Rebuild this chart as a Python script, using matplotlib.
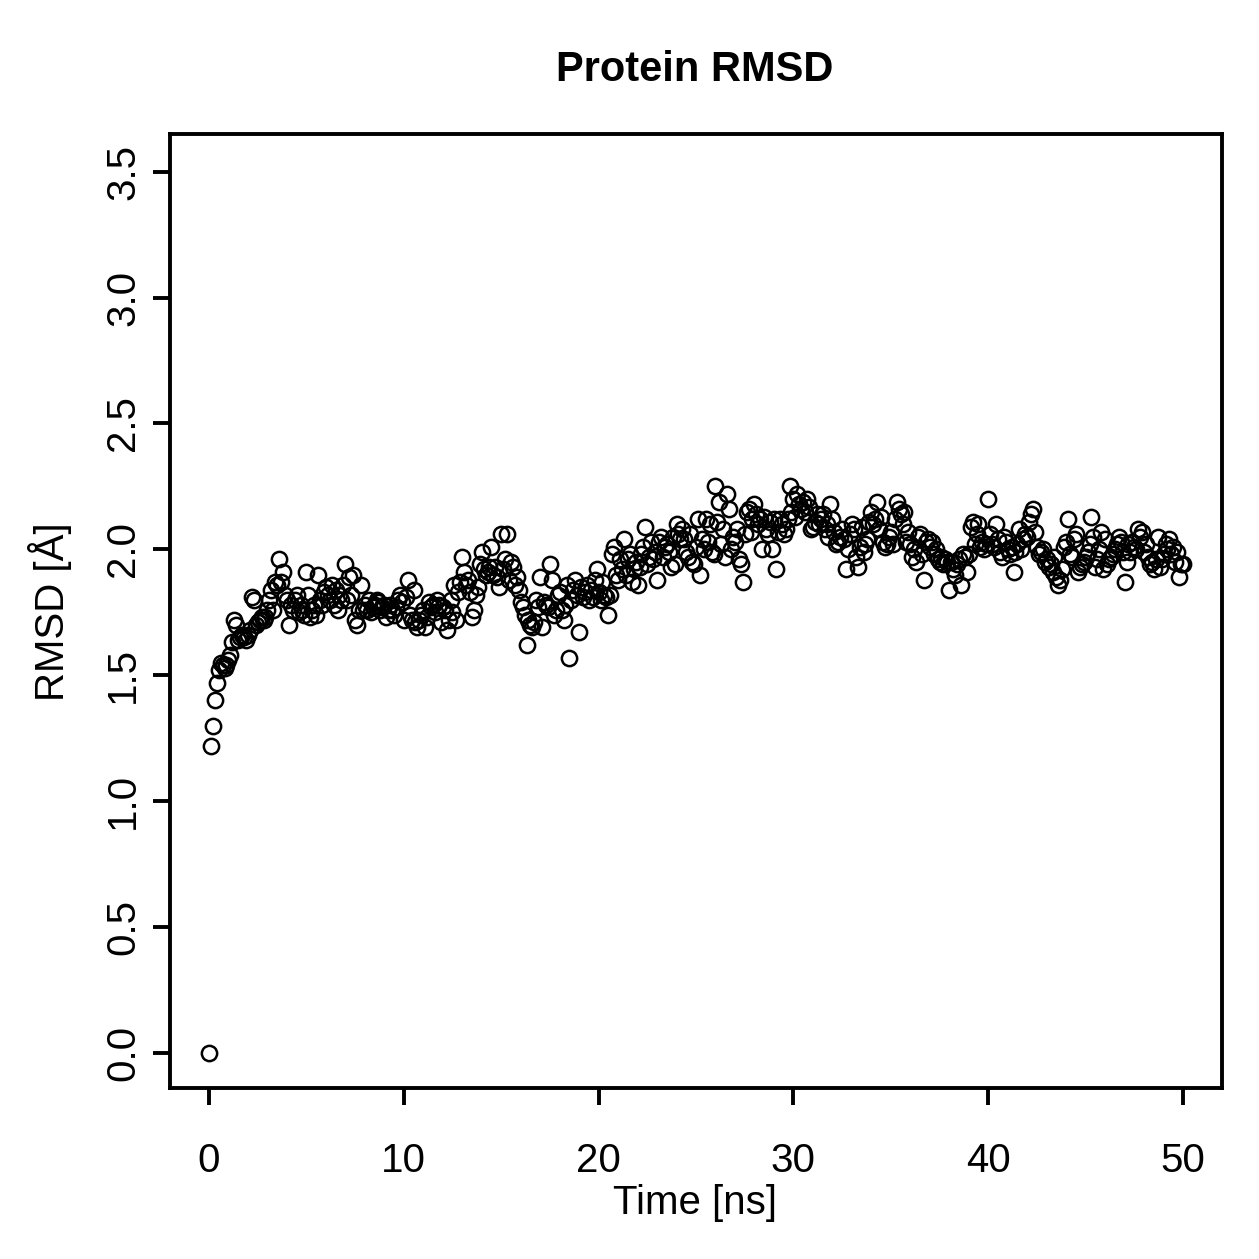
import matplotlib
matplotlib.use("Agg")
import matplotlib.pyplot as plt
import numpy as np

plt.rcParams['font.family'] = ['Liberation Sans', 'DejaVu Sans']

title = "Protein RMSD"
xlabel = "Time [ns]"
ylabel = "RMSD [Å]"
xticks = [0, 10, 20, 30, 40, 50]
yticks = [0.0, 0.5, 1.0, 1.5, 2.0, 2.5, 3.0, 3.5]

time_step = 0.1
rmsd = [
    0.00, 1.22, 1.30, 1.40, 1.47, 1.52, 1.55, 1.54, 1.53, 1.54,
    1.56, 1.58, 1.63, 1.72, 1.70, 1.64, 1.65, 1.66, 1.65, 1.64,
    1.66, 1.68, 1.81, 1.80, 1.70, 1.71, 1.72, 1.73, 1.72, 1.73,
    1.76, 1.80, 1.84, 1.76, 1.87, 1.86, 1.96, 1.87, 1.91, 1.82,
    1.80, 1.70, 1.78, 1.76, 1.80, 1.82, 1.75, 1.78, 1.76, 1.74,
    1.91, 1.82, 1.73, 1.76, 1.78, 1.74, 1.90, 1.80, 1.78, 1.83,
    1.85, 1.82, 1.80, 1.86, 1.78, 1.84, 1.76, 1.82, 1.80, 1.86,
    1.94, 1.80, 1.89, 1.82, 1.90, 1.72, 1.70, 1.76, 1.86, 1.76,
    1.78, 1.76, 1.80, 1.75, 1.77, 1.78, 1.80, 1.79, 1.76, 1.77,
    1.78, 1.73, 1.76, 1.78, 1.76, 1.74, 1.77, 1.80, 1.82, 1.79,
    1.72, 1.81, 1.88, 1.74, 1.72, 1.84, 1.71, 1.69, 1.72, 1.74,
    1.76, 1.69, 1.73, 1.79, 1.77, 1.78, 1.75, 1.80, 1.78, 1.71,
    1.77, 1.76, 1.68, 1.72, 1.80, 1.75, 1.86, 1.72, 1.83, 1.87,
    1.97, 1.91, 1.86, 1.88, 1.83, 1.73, 1.76, 1.82, 1.85, 1.94,
    1.99, 1.92, 1.90, 1.91, 1.93, 2.01, 1.90, 1.93, 1.89, 1.85,
    2.06, 1.92, 1.96, 2.06, 1.88, 1.95, 1.93, 1.86, 1.89, 1.84,
    1.79, 1.77, 1.74, 1.62, 1.72, 1.70, 1.69, 1.71, 1.80, 1.77,
    1.89, 1.69, 1.79, 1.78, 1.77, 1.94, 1.88, 1.74, 1.76, 1.82,
    1.83, 1.76, 1.72, 1.78, 1.86, 1.57, 1.80, 1.84, 1.88, 1.82,
    1.67, 1.85, 1.81, 1.83, 1.86, 1.80, 1.84, 1.81, 1.88, 1.92,
    1.83, 1.80, 1.87, 1.82, 1.81, 1.74, 1.82, 1.98, 2.01, 1.90,
    1.88, 1.96, 1.92, 2.04, 1.90, 1.96, 1.98, 1.87, 1.92, 1.95,
    1.86, 1.93, 1.98, 2.01, 2.09, 1.94, 1.97, 2.03, 1.96, 1.99,
    1.88, 2.03, 2.05, 1.97, 2.01, 2.02, 1.99, 1.93, 2.05, 1.94,
    2.10, 2.06, 2.04, 2.08, 2.04, 1.99, 1.97, 2.06, 1.95, 1.94,
    2.01, 2.12, 1.90, 2.04, 2.00, 2.12, 2.03, 2.10, 1.99, 1.98,
    2.25, 2.11, 2.19, 2.02, 2.08, 1.97, 2.22, 2.16, 2.00, 2.05,
    2.03, 2.08, 1.96, 1.94, 1.87, 2.06, 2.15, 2.16, 2.07, 2.12,
    2.18, 2.14, 2.10, 2.12, 2.00, 2.13, 2.08, 2.06, 2.11, 2.00,
    2.12, 1.92, 2.07, 2.12, 2.10, 2.06, 2.08, 2.12, 2.25, 2.15,
    2.20, 2.13, 2.22, 2.18, 2.16, 2.19, 2.15, 2.20, 2.17, 2.08,
    2.09, 2.11, 2.14, 2.10, 2.12, 2.14, 2.08, 2.10, 2.05, 2.18,
    2.12, 2.07, 2.02, 2.03, 2.05, 2.08, 2.04, 1.92, 2.00, 2.06,
    2.10, 2.08, 1.97, 1.93, 2.01, 2.09, 1.99, 2.02, 2.04, 2.11,
    2.15, 2.10, 2.12, 2.19, 2.08, 2.13, 2.03, 2.01, 2.02, 2.05,
    2.07, 2.02, 2.12, 2.19, 2.16, 2.14, 2.10, 2.15, 2.03, 2.07,
    2.02, 1.97, 2.00, 1.95, 2.05, 2.06, 1.98, 1.88, 2.03, 2.04,
    2.01, 2.03, 1.98, 2.00, 1.96, 1.95, 1.97, 1.94, 1.96, 1.95,
    1.84, 1.95, 1.92, 1.90, 1.94, 1.96, 1.86, 1.98, 1.97, 1.91,
    1.98, 2.09, 2.11, 2.02, 2.06, 2.10, 2.01, 2.03, 2.00, 2.02,
    2.20, 2.06, 2.02, 2.01, 2.10, 2.04, 1.99, 1.97, 2.05, 2.03,
    2.00, 1.98, 2.01, 1.91, 1.99, 2.02, 2.08, 2.00, 2.04, 2.06,
    2.05, 2.11, 2.14, 2.16, 2.07, 2.01, 1.98, 1.99, 2.00, 1.95,
    1.96, 1.93, 1.94, 1.91, 1.97, 1.89, 1.86, 1.88, 1.92, 2.01,
    2.03, 2.12, 1.98, 1.97, 2.04, 2.06, 1.91, 1.93, 1.94, 1.95,
    1.97, 1.99, 2.02, 2.13, 2.05, 1.93, 1.96, 2.00, 2.07, 1.92,
    2.04, 1.94, 1.96, 1.97, 1.98, 2.00, 2.02, 2.05, 2.03, 1.99,
    1.87, 1.95, 2.02, 1.99, 2.03, 2.01, 2.00, 2.08, 2.05, 2.07,
    1.99, 2.02, 1.97, 1.94, 1.95, 1.92, 1.96, 2.05, 1.93, 1.96,
    1.98, 2.02, 2.00, 2.04, 1.98, 2.01, 1.95, 1.99, 1.89, 1.94,
    1.94,
]
time = np.arange(len(rmsd)) * time_step

W = H = 1259
fig = plt.figure(figsize=(W / 100, H / 100), dpi=100)
ax = fig.add_axes([170 / W, 1 - 1088 / H, (1222 - 170) / W, (1088 - 134) / H])

ax.plot(time, rmsd, linestyle='none', marker='o', markersize=11,
        markerfacecolor='none', markeredgecolor='black', markeredgewidth=1.8)

ax.set_xlim(-2, 52)
ax.set_ylim(-0.14, 3.65)
ax.set_xticks(xticks)
ax.set_xticklabels([str(t) for t in xticks])
ax.set_yticks(yticks)
ax.set_yticklabels([f"{t:.1f}" for t in yticks], rotation=90, va='center')

for s in ax.spines.values():
    s.set_linewidth(2.8)
ax.tick_params(direction='out', length=12, width=2.8, labelsize=29, pad=8)
ax.tick_params(axis='x', pad=27)

fig.text(695 / W, 1 - 70 / H, title, ha='center', va='center',
         fontsize=30, fontweight='bold')
fig.text(695 / W, 1 - 1203 / H, xlabel, ha='center', va='center', fontsize=29)
fig.text(50 / W, 1 - 612 / H, ylabel, ha='center', va='center',
         fontsize=29, rotation=90)

fig.savefig("out.png", dpi=100)
